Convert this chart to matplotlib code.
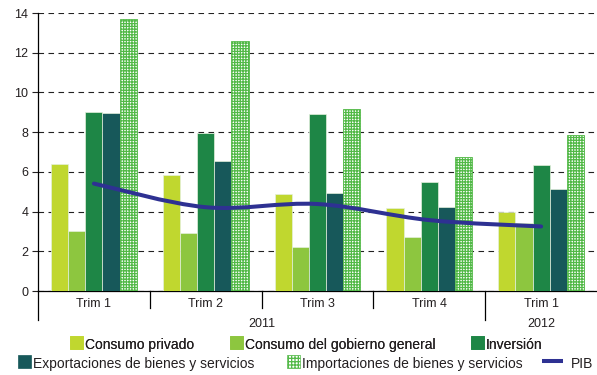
import numpy as np
import matplotlib
matplotlib.use("Agg")
import matplotlib.pyplot as plt
from matplotlib.patches import Rectangle, PathPatch
from matplotlib.lines import Line2D
from matplotlib.path import Path
import matplotlib.transforms as mtransforms

plt.rcParams['font.family'] = ['Liberation Sans', 'DejaVu Sans']
plt.rcParams['hatch.linewidth'] = 0.9

# ---------------- data ----------------
quarters = ["Trim 1", "Trim 2", "Trim 3", "Trim 4", "Trim 1"]
years = ["2011", "2012"]
year_spans = [(0, 3), (4, 4)]
consumo_privado = [6.4, 5.85, 4.9, 4.2, 4.0]
consumo_gobierno = [3.0, 2.92, 2.23, 2.72, 3.43]
inversion = [9.03, 7.95, 8.9, 5.5, 6.35]
exportaciones = [8.96, 6.54, 4.96, 4.25, 5.16]
importaciones = [13.68, 12.59, 9.19, 6.76, 7.88]
pib = [5.41, 4.22, 4.38, 3.57, 3.25]
y_ticks = [0, 2, 4, 6, 8, 10, 12, 14]

series_names = ["Consumo privado", "Consumo del gobierno general", "Inversión",
                "Exportaciones de bienes y servicios", "Importaciones de bienes y servicios"]
series_vals = [consumo_privado, consumo_gobierno, inversion, exportaciones, importaciones]
colors = ["#C0D72F", "#8DC63F", "#1E8646", "#17585A", "#52B947"]
line_color = "#2E3192"
text_color = "#231F20"

fig = plt.figure(figsize=(5.97, 3.75), dpi=100)
ax = fig.add_axes([38 / 597, 84 / 375, 559 / 597, 278 / 375])

x = np.arange(len(quarters))
bw = 0.1536
for i, (name, vals, c) in enumerate(zip(series_names, series_vals, colors)):
    off = (i - 2) * bw
    if i == 4:
        ax.bar(x + off, vals, bw, facecolor="white", edgecolor=c, hatch="++++++",
               linewidth=0.6, zorder=3)
    else:
        ax.bar(x + off, vals, bw, color=c, edgecolor="#E4F0DC", linewidth=0.5, zorder=3)

# smoothed PIB line (Catmull-Rom -> cubic Bezier through the data points)
pts = np.column_stack([x.astype(float), pib])
ext = np.vstack([pts[0], pts, pts[-1]])
verts = [tuple(pts[0])]
codes = [Path.MOVETO]
for k in range(len(pts) - 1):
    p0, p1, p2, p3 = ext[k], ext[k + 1], ext[k + 2], ext[k + 3]
    c1 = p1 + (p2 - p0) / 6.0
    c2 = p2 - (p3 - p1) / 6.0
    verts += [tuple(c1), tuple(c2), tuple(p2)]
    codes += [Path.CURVE4] * 3
ax.add_patch(PathPatch(Path(verts, codes), facecolor="none", edgecolor=line_color,
                       linewidth=2.9, capstyle="round", zorder=5))

ax.set_xlim(-0.5, 4.5)
ax.set_ylim(0, 14)
ax.set_yticks(y_ticks)
ax.tick_params(axis="y", direction="out", length=4, width=0.8, pad=3, labelsize=9,
               colors=text_color)
ax.yaxis.grid(True, linestyle=(0, (5, 4)), color="#222222", linewidth=0.8, zorder=0)
ax.set_axisbelow(True)
for s in ["top", "right"]:
    ax.spines[s].set_visible(False)
ax.spines["left"].set_linewidth(0.9)
ax.spines["bottom"].set_linewidth(0.9)
ax.spines["left"].set_color("black")
ax.spines["bottom"].set_color("black")

ax.set_xticks(x)
ax.set_xticklabels(quarters)
ax.tick_params(axis="x", length=0, pad=5, labelsize=9, colors=text_color)

# category dividers
trans = mtransforms.blended_transform_factory(ax.transData, ax.transAxes)
short_b = -17 / 278
long_b = -29 / 278
for b in [-0.5, 0.5, 1.5, 2.5, 3.5]:
    yb = long_b if b in (-0.5, 3.5) else short_b
    ax.plot([b, b], [0, yb], color="black", linewidth=0.9, transform=trans, clip_on=False)

for yl, (a, b) in zip(years, year_spans):
    ax.annotate(yl, xy=((a + b) / 2, 0), xycoords=trans, xytext=(0, -23.5),
                textcoords="offset points", ha="center", va="center", fontsize=9,
                color=text_color)


class SquareHandler:
    def __init__(self, right=False):
        self.right = right

    def legend_artist(self, legend, orig_handle, fontsize, handlebox):
        x0, y0 = handlebox.xdescent, handlebox.ydescent
        w, h = handlebox.width, handlebox.height
        s = 9.4
        xs = x0 + (w - s if self.right else 0)
        p = Rectangle((xs, y0 + (h - s) / 2), s, s,
                      facecolor=orig_handle.get_facecolor(),
                      edgecolor=orig_handle.get_edgecolor(),
                      hatch=orig_handle.get_hatch(), linewidth=0.5,
                      transform=handlebox.get_transform())
        handlebox.add_artist(p)
        return p


class LineHandler:
    def legend_artist(self, legend, orig_handle, fontsize, handlebox):
        x0, y0 = handlebox.xdescent, handlebox.ydescent
        w, h = handlebox.width, handlebox.height
        sh = 4.3  # points shifted left so the gap to the text is wider
        ln = Line2D([x0 - sh, x0 + w - sh], [y0 + h / 2, y0 + h / 2], color=line_color,
                    linewidth=2.9, solid_capstyle="butt",
                    transform=handlebox.get_transform())
        handlebox.add_artist(ln)
        return ln


hs = []
for i, c in enumerate(colors):
    if i == 4:
        hs.append(Rectangle((0, 0), 1, 1, facecolor="white", edgecolor=c, hatch="+++++"))
    else:
        hs.append(Rectangle((0, 0), 1, 1, facecolor=c, edgecolor=c))
hline = Line2D([], [], color=line_color)

leg1 = fig.legend(hs[:3], series_names[:3], loc="center", bbox_to_anchor=(0.513, 1 - 345 / 375),
                  ncol=3, frameon=False, fontsize=10, handlelength=0.94, handleheight=0.9,
                  handletextpad=0.15, columnspacing=2.55, borderpad=0, borderaxespad=0,
                  handler_map={Rectangle: SquareHandler()}, labelcolor=text_color)
fig.add_artist(leg1)
leg2 = fig.legend(hs[3:] + [hline], series_names[3:] + ["PIB"], loc="center",
                  bbox_to_anchor=(0.505, 1 - 364 / 375), ncol=3, frameon=False, fontsize=10,
                  handlelength=1.5, handleheight=0.9, handletextpad=0.15, columnspacing=1.8,
                  borderpad=0, borderaxespad=0,
                  handler_map={Rectangle: SquareHandler(right=True), Line2D: LineHandler()},
                  labelcolor=text_color)

fig.savefig("out.png", dpi=100)
